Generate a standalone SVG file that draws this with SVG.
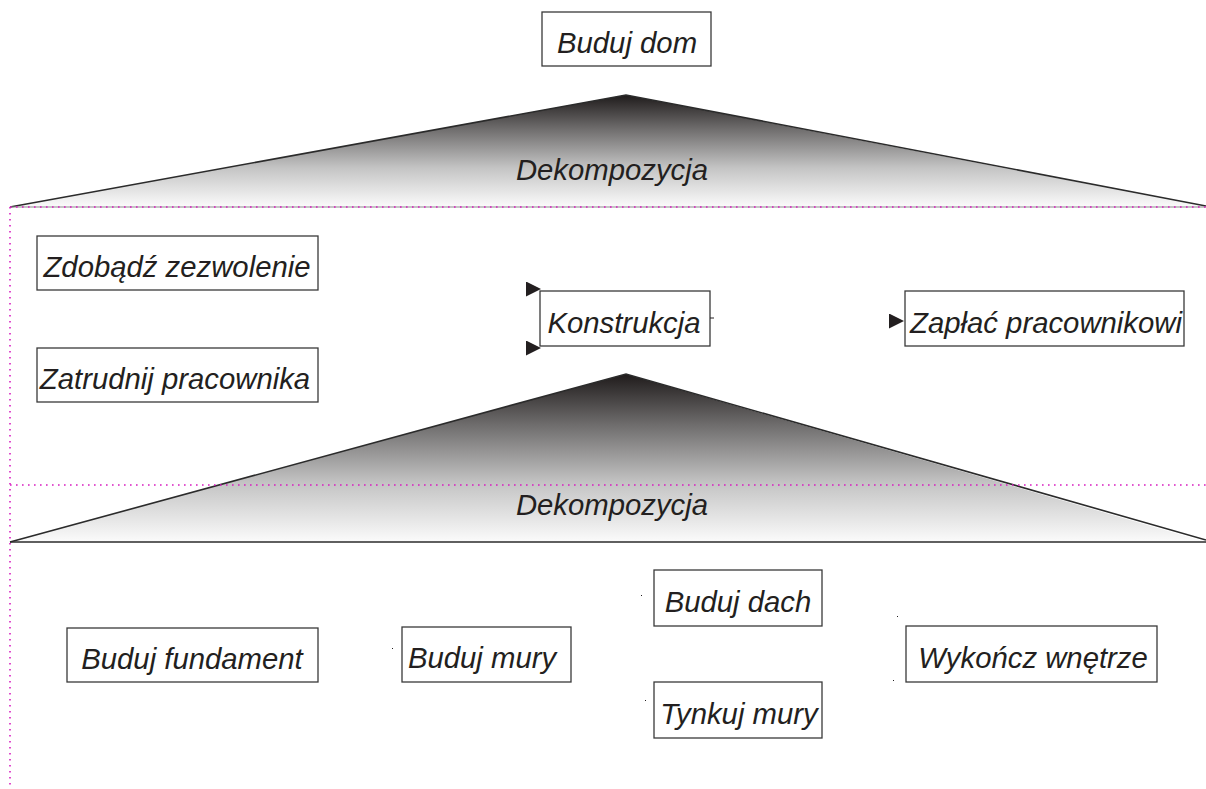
<svg xmlns="http://www.w3.org/2000/svg" width="1206" height="789" viewBox="0 0 1206 789">
  <defs>
    <linearGradient id="decompFill" x1="0" y1="0" x2="0" y2="1">
      <stop offset="0" stop-color="#1f1b1b"/>
      <stop offset="0.3" stop-color="#6e6c6c"/>
      <stop offset="0.65" stop-color="#c4c4c4"/>
      <stop offset="1" stop-color="#fbfbfb"/>
    </linearGradient>
    <marker id="tri" viewBox="0 0 10 10" refX="10" refY="5" markerWidth="15" markerHeight="15" markerUnits="userSpaceOnUse" orient="auto">
      <path d="M0,0 L10,5 L0,10 Z" fill="#231f20"/>
    </marker>
  </defs>
  <style>
    .box { fill: #ffffff; stroke: #3a3a3a; stroke-width: 1.3; }
    .lbl { font-family: "Liberation Sans", Arial, sans-serif; font-style: italic; font-size: 29.3px; fill: #231f20; text-anchor: middle; }
    .edge { fill: none; stroke: #2b2b2b; stroke-width: 1.6; }
    .guide { fill: none; stroke: #d81cc0; stroke-width: 1.6; stroke-dasharray: 1.6 4.4; }
    .dot { fill: #231f20; }
  </style>
  <rect width="1206" height="789" fill="#ffffff"/>

  <!-- decomposition wedges -->
  <g id="decomp-top">
    <polygon points="626,95 10,207 1206,207" fill="url(#decompFill)"/>
    <polyline class="edge" points="10,207 626,95 1206,206"/>
    <line x1="10" y1="207" x2="1206" y2="207" stroke="#8c8c8c" stroke-width="1.2"/>
    <text class="lbl" x="612" y="180">Dekompozycja</text>
  </g>
  <g id="decomp-bottom">
    <polygon points="626,374 10,542 1206,542" fill="url(#decompFill)"/>
    <polyline class="edge" points="10,542 626,374 1206,540"/>
    <line x1="10" y1="542" x2="1206" y2="542" stroke="#2b2b2b" stroke-width="1.6"/>
    <text class="lbl" x="612" y="515">Dekompozycja</text>
  </g>

  <!-- level guides -->
  <g id="guides">
    <line class="guide" x1="10" y1="207" x2="1206" y2="207"/>
    <line class="guide" x1="10" y1="485" x2="1206" y2="485"/>
    <line class="guide" x1="10" y1="207" x2="10" y2="789"/>
  </g>

  <!-- level 0 -->
  <g id="buduj-dom">
    <rect class="box" x="542" y="12" width="169" height="54"/>
    <text class="lbl" x="627" y="53">Buduj dom</text>
  </g>

  <!-- level 1 -->
  <g id="zdobadz-zezwolenie">
    <rect class="box" x="37" y="236" width="281" height="54"/>
    <text class="lbl" x="177" y="277">Zdobądź zezwolenie</text>
  </g>
  <g id="zatrudnij-pracownika">
    <rect class="box" x="37" y="348" width="281" height="54"/>
    <text class="lbl" x="175" y="389">Zatrudnij pracownika</text>
  </g>
  <g id="konstrukcja">
    <rect class="box" x="540" y="291" width="170" height="55"/>
    <text class="lbl" x="624" y="333">Konstrukcja</text>
  </g>
  <g id="zaplac-pracownikowi">
    <rect class="box" x="905" y="291" width="279" height="55"/>
    <text class="lbl" x="1046" y="333">Zapłać pracownikowi</text>
  </g>

  <!-- level 2 -->
  <g id="buduj-fundament">
    <rect class="box" x="67" y="628" width="251" height="54"/>
    <text class="lbl" x="192" y="669">Buduj fundament</text>
  </g>
  <g id="buduj-mury">
    <rect class="box" x="402" y="627" width="169" height="55"/>
    <text class="lbl" x="482" y="668">Buduj mury</text>
  </g>
  <g id="buduj-dach">
    <rect class="box" x="654" y="570" width="168" height="56"/>
    <text class="lbl" x="738" y="612">Buduj dach</text>
  </g>
  <g id="tynkuj-mury">
    <rect class="box" x="654" y="682" width="168" height="56"/>
    <text class="lbl" x="739" y="724">Tynkuj mury</text>
  </g>
  <g id="wykoncz-wnetrze">
    <rect class="box" x="906" y="626" width="251" height="56"/>
    <text class="lbl" x="1033" y="668">Wykończ wnętrze</text>
  </g>

  <!-- sequence connectors -->
  <g id="connectors">
    <line x1="526" y1="289" x2="541" y2="289" stroke="none" marker-end="url(#tri)"/>
    <line x1="526" y1="348" x2="541" y2="348" stroke="none" marker-end="url(#tri)"/>
    <line x1="889" y1="321" x2="904" y2="321" stroke="none" marker-end="url(#tri)"/>
    <line x1="710" y1="318" x2="714" y2="318" stroke="#231f20" stroke-width="1"/>
    <rect class="dot" x="392" y="648" width="1" height="1"/>
    <rect class="dot" x="641" y="595" width="1" height="1"/>
    <rect class="dot" x="645" y="700" width="1" height="1"/>
    <rect class="dot" x="897" y="616" width="1" height="1"/>
    <rect class="dot" x="893" y="680" width="1" height="1"/>
  </g>
</svg>
